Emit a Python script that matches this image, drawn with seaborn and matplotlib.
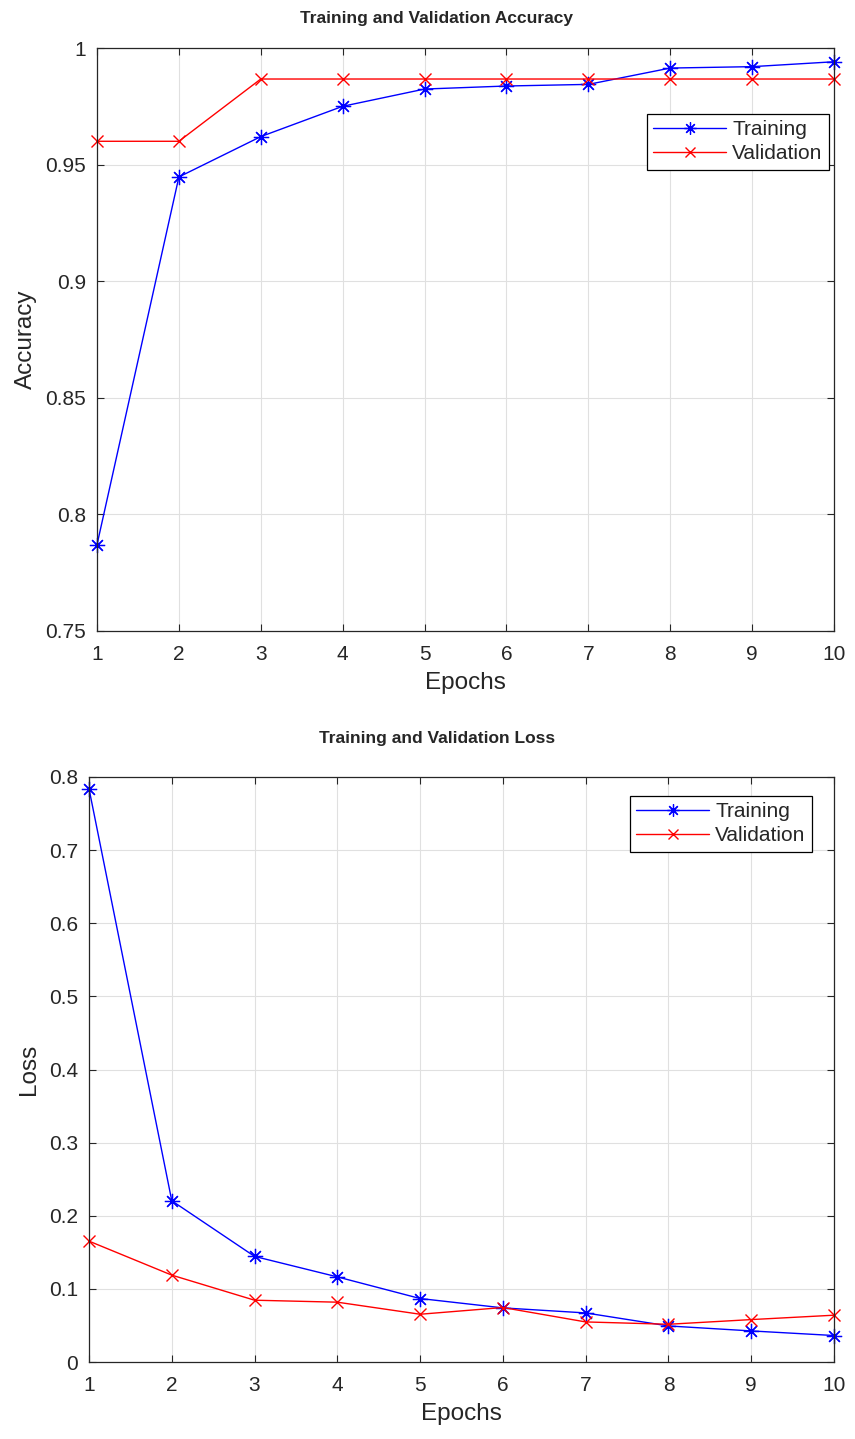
import matplotlib
matplotlib.use("Agg")
import matplotlib.pyplot as plt
import seaborn as sns

# valores
epochs = [1, 2, 3, 4, 5, 6, 7, 8, 9, 10]
train_acc = [0.787, 0.9447, 0.962, 0.975, 0.9824, 0.9837, 0.9844, 0.9914, 0.992, 0.9941]
val_acc = [0.96, 0.96, 0.9867, 0.9867, 0.9867, 0.9867, 0.9867, 0.9867, 0.9867, 0.9867]
train_loss = [0.784, 0.2205, 0.1444, 0.1164, 0.0868, 0.074, 0.0671, 0.0493, 0.0425, 0.0362]
val_loss = [0.1653, 0.1188, 0.0845, 0.0818, 0.0653, 0.0745, 0.0548, 0.0516, 0.058, 0.064]

sns.set_style("whitegrid")
plt.rcParams["font.family"] = ["Liberation Sans", "DejaVu Sans"]

W, H = 855, 1439
fig = plt.figure(figsize=(W / 100, H / 100), dpi=100)

AST = (8, 2, 0)  # asterisco tipo MATLAB (8 brazos)


def curvas(ax, tr, va):
    sns.lineplot(x=epochs, y=tr, ax=ax, color="#0000ff", marker=AST,
                 markersize=11, markeredgewidth=0.9, markeredgecolor="#0000ff",
                 linewidth=1, label="Training", clip_on=False)
    sns.lineplot(x=epochs, y=va, ax=ax, color="#ff0000", marker="x",
                 markersize=9, markeredgewidth=1, markeredgecolor="#ff0000",
                 linewidth=1, label="Validation", clip_on=False)


def estilo(ax, ylim, yticks, ylabel, anchor):
    ax.set_xlim(1, 10)
    ax.set_ylim(*ylim)
    ax.set_xticks(epochs)
    ax.set_yticks(yticks)
    ax.set_yticklabels([f"{t:g}" for t in yticks])
    ax.grid(True, color="#e0e0e0", linewidth=0.8)
    for s in ax.spines.values():
        s.set_color("#262626")
        s.set_linewidth(0.9)
    ax.tick_params(direction="in", length=5, width=0.8, color="#262626",
                   labelsize=15, labelcolor="#262626", top=True, right=True,
                   left=True, bottom=True)
    ax.tick_params(axis="x", pad=10)
    ax.tick_params(axis="y", pad=8)
    ax.set_xlabel("Epochs", fontsize=17.5, color="#262626", labelpad=6)
    ax.set_ylabel(ylabel, fontsize=17.5, color="#262626", labelpad=6)
    leg = ax.legend(loc="upper right", bbox_to_anchor=anchor, fontsize=15,
                    frameon=True, fancybox=False, edgecolor="black",
                    framealpha=1, borderpad=0.3, handlelength=3.5,
                    handletextpad=0.3, labelspacing=0.25, borderaxespad=0,
                    markerscale=0.8)
    leg.get_frame().set_linewidth(0.9)


# 1. Precision
ax1 = fig.add_axes([97 / W, 1 - 631 / H, (834 - 97) / W, (631 - 48) / H])
curvas(ax1, train_acc, val_acc)
estilo(ax1, (0.75, 1.0), [0.75, 0.8, 0.85, 0.9, 0.95, 1.0], "Accuracy",
       ((829 - 97) / (834 - 97), (631 - 114) / (631 - 48)))
fig.text(437 / W, 1 - 19 / H, "Training and Validation Accuracy",
         ha="center", va="center", fontsize=12.5, fontweight="bold")

# 2. Perdida
ax2 = fig.add_axes([89 / W, 1 - 1362 / H, (834 - 89) / W, (1362 - 777) / H])
curvas(ax2, train_loss, val_loss)
estilo(ax2, (0, 0.8), [0, 0.1, 0.2, 0.3, 0.4, 0.5, 0.6, 0.7, 0.8], "Loss",
       ((812 - 89) / (834 - 89), (1362 - 796) / (1362 - 777)))
fig.text(437 / W, 1 - 739 / H, "Training and Validation Loss",
         ha="center", va="center", fontsize=12.5, fontweight="bold")

fig.savefig("out.png", dpi=100)
plt.close()
